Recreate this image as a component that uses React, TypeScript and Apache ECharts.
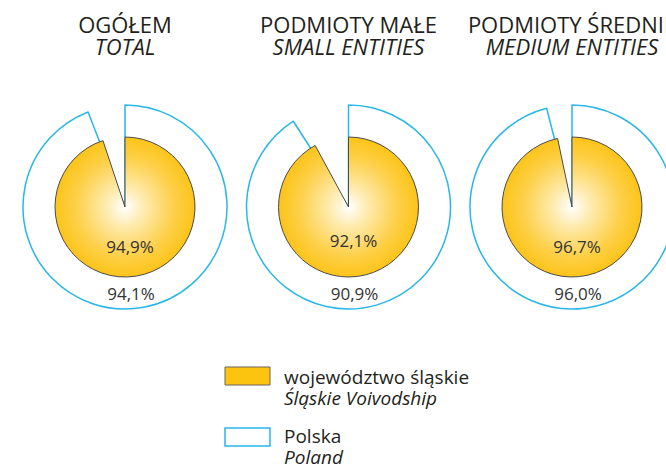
import React, { useEffect, useRef } from "react";
import * as echarts from "echarts";

const titlesPl = ["OGÓŁEM", "PODMIOTY MAŁE", "PODMIOTY ŚREDNIE"];
const titlesEn = ["TOTAL", "SMALL ENTITIES", "MEDIUM ENTITIES"];
const slaskieValues = [94.9, 92.1, 96.7];
const polskaValues = [94.1, 90.9, 96.0];
const legendPl = ["województwo śląskie", "Polska"];
const legendEn = ["Śląskie Voivodship", "Poland"];

const FONT = "'Open Sans', sans-serif";
const centersX = [125, 348.5, 572];
const CY = 207;
const R_OUT = 102;
const R_IN = 70;
const fmt = (v: number) => v.toFixed(1).replace(".", ",") + "%";

export default function App() {
  const ref = useRef<HTMLDivElement>(null);
  useEffect(() => {
    const chart = echarts.init(ref.current!, null, { renderer: "svg" });
    const series: any[] = [];
    const graphic: any[] = [];
    centersX.forEach((cx, i) => {
      series.push({
        type: "pie",
        center: [cx, CY],
        radius: [0, R_OUT],
        startAngle: 90,
        clockwise: true,
        silent: true,
        label: { show: false },
        labelLine: { show: false },
        data: [
          { value: polskaValues[i], itemStyle: { color: "#ffffff", borderColor: "#29b6e8", borderWidth: 1.5 } },
          { value: 100 - polskaValues[i], itemStyle: { color: "rgba(0,0,0,0)", borderWidth: 0 } },
        ],
      });
      series.push({
        type: "pie",
        center: [cx, CY],
        radius: [0, R_IN],
        startAngle: 90,
        clockwise: true,
        silent: true,
        label: { show: false },
        labelLine: { show: false },
        data: [
          {
            value: slaskieValues[i],
            itemStyle: {
              color: new echarts.graphic.RadialGradient(0.5, 0.5, 0.5, [
                { offset: 0, color: "#ffffff" },
                { offset: 0.3, color: "#fee9a8" },
                { offset: 0.72, color: "#fdcf45" },
                { offset: 1, color: "#fcc419" },
              ]),
              borderColor: "#4a4a48",
              borderWidth: 1,
            },
          },
          { value: 100 - slaskieValues[i], itemStyle: { color: "rgba(0,0,0,0)", borderWidth: 0 } },
        ],
      });
      graphic.push({
        type: "text",
        x: cx,
        y: 35,
        style: {
          text: `{a|${titlesPl[i]}}\n{b|${titlesEn[i]}}`,
          textAlign: "center",
          textVerticalAlign: "middle",
          rich: {
            a: { font: `22px ${FONT}`, fill: "#231f20", lineHeight: 22, align: "center" },
            b: { font: `italic 22px ${FONT}`, fill: "#231f20", lineHeight: 22, align: "center" },
          },
        },
      });
      graphic.push({
        type: "text",
        x: cx + 5,
        y: i === 1 ? 240 : 246,
        z: 10,
        style: { text: fmt(slaskieValues[i]), font: `17px ${FONT}`, fill: "#333333", textAlign: "center", textVerticalAlign: "middle" },
      });
      graphic.push({
        type: "text",
        x: cx + 6,
        y: 293,
        z: 10,
        style: { text: fmt(polskaValues[i]), font: `17px ${FONT}`, fill: "#333333", textAlign: "center", textVerticalAlign: "middle" },
      });
    });
    // legend
    graphic.push({
      type: "rect",
      shape: { x: 225, y: 367, width: 45, height: 18 },
      style: { fill: "#fdc40f", stroke: "#6b6558", lineWidth: 1 },
    });
    graphic.push({
      type: "rect",
      shape: { x: 225, y: 428, width: 45, height: 18 },
      style: { fill: "#ffffff", stroke: "#29b6e8", lineWidth: 1.5 },
    });
    const ly = [387, 446];
    legendPl.forEach((t, k) => {
      graphic.push({
        type: "text",
        x: 284,
        y: ly[k],
        style: {
          text: `{a|${t}}\n{b|${legendEn[k]}}`,
          textAlign: "left",
          textVerticalAlign: "middle",
          rich: {
            a: { font: `19px ${FONT}`, fill: "#231f20", lineHeight: 21 },
            b: { font: `italic 19px ${FONT}`, fill: "#231f20", lineHeight: 21 },
          },
        },
      });
    });
    chart.setOption({
      animation: false,
      backgroundColor: "#ffffff",
      series,
      graphic,
    });
    return () => chart.dispose();
  }, []);
  return <div ref={ref} style={{ width: 666, height: 469, position: "absolute", left: 0, top: 0 }} />;
}
